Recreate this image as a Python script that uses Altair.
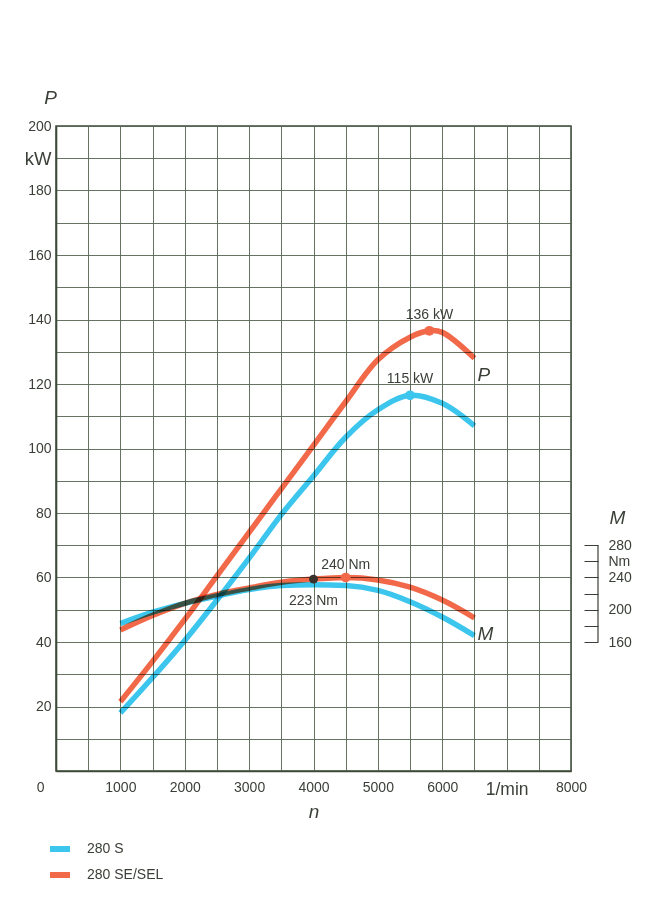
import altair as alt
import pandas as pd

# ---------------- data ----------------
series = ["280 S", "280 SE/SEL"]
series_colors = ["#3cc6ee", "#f2694a"]

rpm_s = [1000, 1500, 2000, 2500, 3000, 3500, 4000, 4500, 5000, 5500, 6000, 6500]
power_s = [18, 29, 40.5, 53, 66, 79.5, 91.5, 103.5, 112, 116.5, 114, 107]
torque_s = [183, 197, 208, 217, 225, 230, 231, 230, 224, 210, 191, 168]

rpm_se_p = [1000, 1500, 2000, 2500, 3000, 3500, 4000, 4500, 5000, 5500, 5800, 6000, 6500]
power_se = [21.5, 34, 47, 60.5, 74, 87.5, 101, 114.5, 127.5, 134.5, 136.5, 136, 128]
rpm_se_m = [1000, 1500, 2000, 2500, 3000, 3500, 4000, 4500, 5000, 5500, 6000, 6500]
torque_se = [175, 193, 208, 219, 227, 234, 238, 240, 237, 228, 212, 190]

peak_p_series = ["280 SE/SEL", "280 S"]
peak_p_rpm = [5800, 5500]
peak_p_val = [136.5, 116.5]
peak_p_text = ["136 kW", "115 kW"]

peak_m_rpm_se, peak_m_val_se, peak_m_text_se = [4500], [240], ["240 Nm"]
peak_m_rpm_s, peak_m_val_s, peak_m_text_s = [4000], [238], ["223 Nm"]

rpm_grid = list(range(0, 8001, 500))
p_grid = list(range(0, 201, 10))
m_ticks = [160, 180, 200, 220, 240, 260, 280]

# ---------------- tables ----------------
df_p = pd.concat([
    pd.DataFrame({"series": series[0], "n": rpm_s, "P": power_s}),
    pd.DataFrame({"series": series[1], "n": rpm_se_p, "P": power_se}),
])
df_m = pd.concat([
    pd.DataFrame({"series": series[0], "n": rpm_s, "M": torque_s}),
    pd.DataFrame({"series": series[1], "n": rpm_se_m, "M": torque_se}),
])
df_pk = pd.DataFrame({"series": peak_p_series, "n": peak_p_rpm, "P": peak_p_val, "t": peak_p_text})
df_mk_se = pd.DataFrame({"n": peak_m_rpm_se, "M": peak_m_val_se, "t": peak_m_text_se})
df_mk_s = pd.DataFrame({"n": peak_m_rpm_s, "M": peak_m_val_s, "t": peak_m_text_s})
df_p_end = pd.DataFrame({"n": [rpm_se_p[-1]], "P": [power_se[-1]], "t": ["P"]})
df_m_end = pd.DataFrame({"n": [rpm_s[-1]], "M": [torque_s[-1]], "t": ["M"]})
df_br = pd.DataFrame({"lo": [min(m_ticks)], "hi": [max(m_ticks)]})

# ---------------- style ----------------
W, H = 515, 645
FONT = "Liberation Sans"
INK = "#3a3f37"
GRID = "#56634f"
FRAME = "#3c4a38"
FS = 14

x_scale = alt.Scale(domain=[0, 8000], nice=False, zero=True)
p_scale = alt.Scale(domain=[0, 200], nice=False, zero=True)
m_scale = alt.Scale(domain=[0, 800], nice=False, zero=True)

x_axis = alt.Axis(
    values=rpm_grid, format="d",
    labelExpr="datum.value == 7000 ? '1/min' : (datum.value % 1000 == 0 ? datum.label : '')",
    labelFontSize={"condition": {"test": "datum.value == 7000", "value": 17.5}, "value": FS},
    labelAlign={"condition": {"test": "datum.value == 0", "value": "right"}, "value": "center"},
    labelOffset={"condition": {"test": "datum.value == 0", "value": -12}, "value": 0},
    labelFlush=False, labelOverlap=False, labelBound=False,
    labelPadding=9, ticks=False, domain=True, domainColor=FRAME, domainWidth=1.6,
    grid=True, gridColor=GRID, gridWidth=0.9, gridOpacity=1,
    title="n", titleFontStyle="italic", titleFontWeight="normal", titleFontSize=19,
    titlePadding=5,
)
p_axis = alt.Axis(
    orient="left", values=p_grid, format="d",
    labelExpr="datum.value == 190 ? 'kW' : (datum.value % 20 == 0 && datum.value > 0 ? datum.label : '')",
    labelFontSize={"condition": {"test": "datum.value == 190", "value": 18.5}, "value": FS},
    labelOverlap=False, labelFlush=False, labelBound=False, labelPadding=5,
    ticks=False, domain=True, domainColor=FRAME, domainWidth=1.6,
    grid=True, gridColor=GRID, gridWidth=0.9, gridOpacity=1,
    title="P", titleAngle=0, titleX=-6, titleY=-29, titleAlign="center",
    titleBaseline="middle", titleFontStyle="italic", titleFontWeight="normal", titleFontSize=19,
)
m_axis = alt.Axis(
    orient="right", values=m_ticks, format="d",
    labelExpr="datum.value == 260 ? 'Nm' : (datum.value == 220 || datum.value == 180 ? '' : datum.label)",
    labelFontSize=FS, labelOverlap=False, labelFlush=False, labelBound=False,
    labelAlign="left", labelPadding=10,
    offset=13, ticks=True, tickSize=14, tickColor=INK, tickWidth=1,
    domain=False, grid=False,
    title="M", titleAngle=0, titleX=33, titleY=391, titleAlign="center",
    titleBaseline="middle", titleFontStyle="italic", titleFontWeight="normal", titleFontSize=19,
)

legend = alt.Legend(
    title=None, orient="none", legendX=-9, legendY=710, direction="vertical",
    symbolType="stroke", symbolSize=400, symbolStrokeWidth=6,
    labelFontSize=FS, labelColor=INK, labelFont=FONT, labelOffset=14,
    rowPadding=1, padding=0,
)
color = alt.Color("series:N", scale=alt.Scale(domain=series, range=series_colors), legend=legend)

P_LINE = dict(strokeWidth=5.5, interpolate="catmull-rom", blend="multiply", strokeCap="butt")
M_LINE = dict(strokeWidth=5.5, interpolate="monotone", blend="multiply", strokeCap="butt")


def xs():
    return alt.X("n:Q", scale=x_scale, axis=x_axis)


def yp(axis=None):
    return alt.Y("P:Q", scale=p_scale, axis=axis)


def ym(axis=None):
    return alt.Y("M:Q", scale=m_scale, axis=axis)


# ---------------- power (left scale) ----------------
p_lines = alt.Chart(df_p).mark_line(**P_LINE).encode(
    x=xs(), y=yp(p_axis), color=color, order=alt.Order("n:Q"))
p_dot_se = alt.Chart(df_pk).transform_filter(alt.datum.series == series[1]).mark_circle(
    size=95, color=series_colors[1], opacity=1).encode(x=xs(), y=yp())
p_dot_s = alt.Chart(df_pk).transform_filter(alt.datum.series == series[0]).mark_circle(
    size=95, color=series_colors[0], opacity=1).encode(x=xs(), y=yp())
p_txt = alt.Chart(df_pk).mark_text(
    dy=-16, font=FONT, fontSize=FS, color=INK, baseline="middle", align="center").encode(
    x=xs(), y=yp(), text="t:N")
p_lab = alt.Chart(df_p_end).mark_text(
    dx=3, dy=17, font=FONT, fontSize=19, fontStyle="italic", color=INK,
    baseline="middle", align="left").encode(x=xs(), y=yp(), text="t:N")

# ---------------- torque (right scale) ----------------
m_lines = alt.Chart(df_m).mark_line(**M_LINE).encode(
    x=xs(), y=ym(m_axis), color=color, order=alt.Order("n:Q"))
m_dot_se = alt.Chart(df_mk_se).mark_circle(size=95, color=series_colors[1], opacity=1).encode(
    x=xs(), y=ym())
m_dot_s = alt.Chart(df_mk_s).mark_circle(size=80, color="#3a302c", opacity=1).encode(
    x=xs(), y=ym())
m_txt_se = alt.Chart(df_mk_se).mark_text(
    dy=-13, font=FONT, fontSize=FS, color=INK, baseline="middle", align="center").encode(
    x=xs(), y=ym(), text="t:N")
m_txt_s = alt.Chart(df_mk_s).mark_text(
    dy=22, font=FONT, fontSize=FS, color=INK, baseline="middle", align="center").encode(
    x=xs(), y=ym(), text="t:N")
m_lab = alt.Chart(df_m_end).mark_text(
    dx=3, dy=-2, font=FONT, fontSize=19, fontStyle="italic", color=INK,
    baseline="middle", align="left").encode(x=xs(), y=ym(), text="t:N")
bracket = alt.Chart(df_br).mark_rule(color=INK, strokeWidth=1.2).encode(
    x=alt.value(W + 27),
    y=alt.Y("lo:Q", scale=m_scale, axis=None),
    y2="hi:Q",
)

chart = (
    alt.layer(p_lines, p_dot_s, p_dot_se, p_txt, p_lab,
              m_lines, m_dot_s, m_dot_se, m_txt_se, m_txt_s, m_lab, bracket)
    .resolve_scale(y="independent")
    .properties(
        width=W, height=H,
        autosize=alt.AutoSizeParams(type="none"),
        padding={"left": 48, "top": 118, "right": 68, "bottom": 140},
        background="#ffffff",
    )
    .configure_view(stroke=FRAME, strokeWidth=1.5)
    .configure_axis(labelFont=FONT, titleFont=FONT, labelColor=INK, titleColor=INK)
)

chart.save("out.html", embed_options={"renderer": "svg", "actions": False})
